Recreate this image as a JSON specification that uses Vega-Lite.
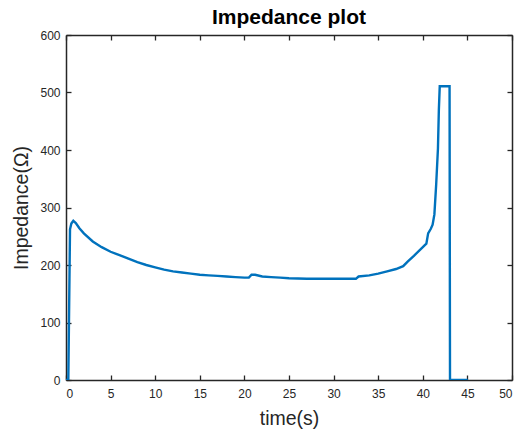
{
  "$schema": "https://vega.github.io/schema/vega-lite/v6.json",
  "width": 446,
  "height": 345,
  "autosize": "none",
  "padding": {"left": 66, "top": 35, "right": 6, "bottom": 54},
  "background": "white",
  "title": {"text": "Impedance plot", "font": "Liberation Sans", "fontSize": 21, "fontWeight": "bold", "color": "black", "offset": 1},
  "config": {
    "view": {"stroke": null},
    "axis": {"grid": false, "domainColor": "#262626", "tickColor": "#262626", "labelColor": "#262626", "labelFont": "Liberation Sans", "labelFontSize": 12, "titleFont": "Liberation Sans", "titleFontSize": 19.5, "titleFontWeight": "normal", "titleColor": "#262626", "tickSize": -5, "domainWidth": 1.5, "tickWidth": 1.3}
  },
  "data": {"values": [
    {"t": 0, "z": 0}, {"t": 0.26, "z": 0}, {"t": 0.45, "z": 262}, {"t": 0.6, "z": 272}, {"t": 0.82, "z": 277}, {"t": 1.1, "z": 273},
    {"t": 1.5, "z": 264}, {"t": 2, "z": 255}, {"t": 3, "z": 241}, {"t": 4, "z": 231}, {"t": 5, "z": 223},
    {"t": 6, "z": 217}, {"t": 7, "z": 211}, {"t": 8, "z": 205}, {"t": 9, "z": 200}, {"t": 10, "z": 196},
    {"t": 11, "z": 192}, {"t": 12, "z": 189}, {"t": 13, "z": 187}, {"t": 14, "z": 185}, {"t": 15, "z": 183},
    {"t": 16, "z": 182}, {"t": 17, "z": 181}, {"t": 18, "z": 180}, {"t": 19, "z": 179}, {"t": 20, "z": 178},
    {"t": 20.5, "z": 178}, {"t": 20.8, "z": 183}, {"t": 21.2, "z": 183}, {"t": 22, "z": 180}, {"t": 23, "z": 179},
    {"t": 24, "z": 178}, {"t": 25, "z": 177}, {"t": 27, "z": 176}, {"t": 29, "z": 176}, {"t": 31, "z": 176},
    {"t": 32.5, "z": 176}, {"t": 32.8, "z": 180}, {"t": 34, "z": 182}, {"t": 35, "z": 185}, {"t": 36, "z": 189},
    {"t": 37, "z": 193}, {"t": 37.8, "z": 198}, {"t": 38.3, "z": 206}, {"t": 39, "z": 216}, {"t": 39.8, "z": 228},
    {"t": 40.4, "z": 237}, {"t": 40.6, "z": 255}, {"t": 40.9, "z": 263}, {"t": 41.1, "z": 270}, {"t": 41.3, "z": 288},
    {"t": 41.5, "z": 340}, {"t": 41.7, "z": 403}, {"t": 41.8, "z": 470}, {"t": 41.9, "z": 511}, {"t": 43.0, "z": 511},
    {"t": 43.05, "z": 0}, {"t": 45.05, "z": 0}
  ]},
  "layer": [
    {
      "mark": {"type": "line", "color": "#0072BD", "strokeWidth": 2.4, "clip": true},
      "encoding": {
        "x": {"field": "t", "type": "quantitative", "scale": {"domain": [0, 50], "nice": false, "zero": false},
              "axis": {"title": "time(s)", "values": [0,5,10,15,20,25,30,35,40,45,50], "labelPadding": 13, "titlePadding": 10}},
        "y": {"field": "z", "type": "quantitative", "scale": {"domain": [0, 600], "nice": false},
              "axis": {"title": "Impedance(Ω)", "values": [0,100,200,300,400,500,600], "labelPadding": 11, "titlePadding": 8}}
      }
    },
    {
      "mark": {"type": "line", "opacity": 0},
      "encoding": {
        "x": {"field": "t", "type": "quantitative", "axis": {"orient": "top", "title": null, "labels": false, "values": [0,5,10,15,20,25,30,35,40,45,50]}},
        "y": {"field": "z", "type": "quantitative", "axis": {"orient": "right", "title": null, "labels": false, "values": [0,100,200,300,400,500,600]}}
      }
    }
  ],
  "resolve": {"axis": {"x": "independent", "y": "independent"}}
}
